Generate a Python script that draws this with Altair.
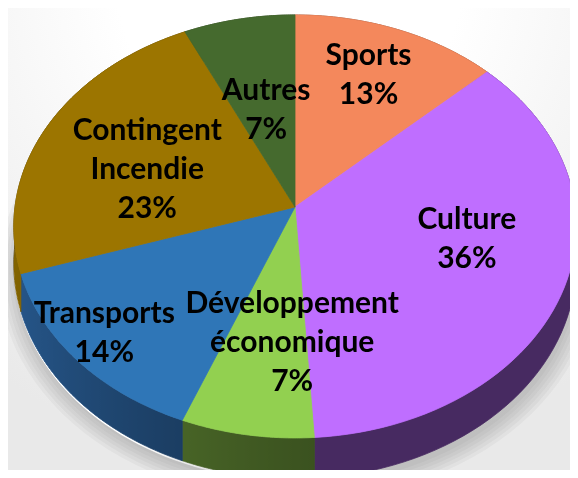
import altair as alt
import pandas as pd

# ---- data ----
CATEGORIES = ["Sports", "Culture", "Développement économique", "Transports", "Contingent Incendie", "Autres"]
SHARES = [13, 36, 7, 14, 23, 7]

# ---- styles ----
TOP_COLORS = ["#F4885C", "#BF6EFF", "#92D050", "#2F76B7", "#9C7500", "#456A2E"]
SIDE_COLORS = ["#7A4430", "#472A61", "#3A511F", "#163250", "#4C3A00", "#2A3F1B"]
LABEL_DX = [8, 7, 26, -59, 8, 7]
LABEL_DY = [-18, -16, 0, 34, 13, 24]

W, H = 562, 462
CX, CY = 287, 199            # pie apex (plot coords)
A, B, K = 280, 209.7, 0.092  # horizontal/vertical radius, perspective factor
DEPTH = 37
N = 60
R_LABEL = 0.62
LINE_H = 39

df = pd.DataFrame({
    "cat": CATEGORIES, "share": SHARES, "idx": list(range(len(CATEGORIES))),
    "top": TOP_COLORS, "side": SIDE_COLORS, "dx": LABEL_DX, "dy": LABEL_DY,
})

X = alt.X("px:Q", scale=alt.Scale(domain=[0, W], nice=False, zero=False), axis=None)
Y = alt.Y("py:Q", scale=alt.Scale(domain=[0, H], nice=False, zero=False, reverse=True), axis=None)

base = (
    alt.Chart(df)
    .transform_window(cum="sum(share)", sort=[alt.SortField("idx")], frame=[None, 0])
    .transform_joinaggregate(total="sum(share)")
    .transform_calculate(
        a0="2*PI*(datum.cum-datum.share)/datum.total",
        a1="2*PI*datum.cum/datum.total",
    )
)

# background
bg = alt.Chart(df).mark_rect(
    fill=alt.Gradient(
        gradient="radial", x1=0.5, y1=0.05, x2=0.5, y2=0.05, r1=0.0, r2=0.85,
        stops=[alt.GradientStop(color="#FFFFFF", offset=0.35),
               alt.GradientStop(color="#E9E9E9", offset=1)],
    )
).encode(x=alt.value(-8), x2=alt.value(W + 8), y=alt.value(-8), y2=alt.value(H + 8))

# soft shadow
shadow = (
    base.transform_filter("datum.idx == 0")
    .transform_calculate(layers="sequence(0, 6)", steps="sequence(0, 121)")
    .transform_flatten(["layers"], as_=["L"])
    .transform_flatten(["steps"], as_=["s"])
    .transform_calculate(
        t="2*PI*datum.s/120",
        sc="1.0 + 0.012*datum.L",
        den=f"1+{K}*cos(datum.t)",
        px=f"{CX}+datum.sc*{A}*sin(datum.t)/datum.den + 2",
        py=f"{CY}+datum.sc*(-{B}*cos(datum.t)+{DEPTH})/datum.den + 6",
    )
    .mark_line(filled=True, color="#606060", opacity=0.06, strokeWidth=0)
    .encode(x=X, y=Y, order="s:Q", detail="L:N")
)

# side walls (one closed polygon per slice)
side = (
    base.transform_calculate(steps=f"sequence(0, {2 * N + 3})")
    .transform_flatten(["steps"], as_=["s"])
    .transform_calculate(
        j=f"datum.s <= {N} ? datum.s : (datum.s <= {2 * N + 1} ? {2 * N + 1} - datum.s : 0)",
        off=f"(datum.s > {N} && datum.s <= {2 * N + 1}) ? 1 : 0",
    )
    .transform_calculate(t=f"datum.a0 + (datum.a1-datum.a0)*datum.j/{N}")
    .transform_calculate(den=f"1+{K}*cos(datum.t)")
    .transform_calculate(
        px=f"{CX}+{A}*sin(datum.t)/datum.den",
        py=f"{CY}+(-{B}*cos(datum.t) + datum.off*{DEPTH})/datum.den",
    )
    .mark_line(strokeWidth=0.8, strokeJoin="round")
    .encode(x=X, y=Y, order="s:Q", detail="cat:N",
            fill=alt.Fill("side:N", scale=None), stroke=alt.Stroke("side:N", scale=None))
)

# lighting on the left-front wall (brightens while keeping hue)
M = 50
light = (
    base.transform_filter("datum.idx == 0")
    .transform_calculate(steps=f"sequence(0, {2 * M + 2})")
    .transform_flatten(["steps"], as_=["s"])
    .transform_calculate(
        j=f"datum.s <= {M} ? datum.s : {2 * M + 1} - datum.s",
        off=f"datum.s > {M} ? 1 : 0",
    )
    .transform_calculate(t=f"PI*(175 + 100*datum.j/{M})/180")
    .transform_calculate(den=f"1+{K}*cos(datum.t)")
    .transform_calculate(
        px=f"{CX}+{A}*sin(datum.t)/datum.den",
        py=f"{CY}+(-{B}*cos(datum.t) + datum.off*({DEPTH}+2))/datum.den",
    )
    .mark_line(
        filled=True, strokeWidth=0, blend="color-dodge",
        fill=alt.Gradient(
            gradient="linear", x1=0, y1=0, x2=1, y2=0,
            stops=[alt.GradientStop(color="#6A6A6A", offset=0),
                   alt.GradientStop(color="#000000", offset=1)],
        ),
    )
    .encode(x=X, y=Y, order="s:Q")
)

top = (
    base.transform_calculate(steps=f"sequence(-1, {N + 2})")
    .transform_flatten(["steps"], as_=["s"])
    .transform_calculate(
        r=f"(datum.s < 0 || datum.s > {N}) ? 0 : 1",
        t=f"datum.a0 + (datum.a1-datum.a0)*min(max(datum.s,0),{N})/{N}",
    )
    .transform_calculate(den=f"1+{K}*datum.r*cos(datum.t)")
    .transform_calculate(
        px=f"{CX}+{A}*datum.r*sin(datum.t)/datum.den",
        py=f"{CY}-{B}*datum.r*cos(datum.t)/datum.den",
    )
    .mark_line(strokeWidth=0.8, strokeJoin="round")
    .encode(x=X, y=Y, order="s:Q", detail="cat:N",
            fill=alt.Fill("top:N", scale=None), stroke=alt.Stroke("top:N", scale=None))
)

labels = (
    base.transform_calculate(
        txt="replace(datum.cat, ' ', '\\n') + '\\n' + format(datum.share/datum.total, '.0%')",
        den=f"1+{K}*{R_LABEL}*cos((datum.a0+datum.a1)/2)",
    )
    .transform_calculate(nl="length(split(datum.txt, '\\n'))")
    .transform_calculate(
        px=f"{CX}+{A}*{R_LABEL}*sin((datum.a0+datum.a1)/2)/datum.den + datum.dx",
        py=f"{CY}-{B}*{R_LABEL}*cos((datum.a0+datum.a1)/2)/datum.den + datum.dy - (datum.nl-1)*{LINE_H}/2",
    )
    .mark_text(font="Lato", fontWeight="bold", fontSize=30, lineBreak="\n", lineHeight=LINE_H,
               align="center", baseline="middle", color="#000000")
    .encode(x=X, y=Y, text="txt:N")
)

chart = (
    alt.layer(bg, shadow, side, light, top, labels)
    .properties(width=W, height=H, padding=0, autosize=alt.AutoSizeParams(type="none"))
    .configure_view(stroke=None)
    .configure(background="#FFFFFF")
)

chart.save("out.html", embed_options={"renderer": "svg", "actions": False})
